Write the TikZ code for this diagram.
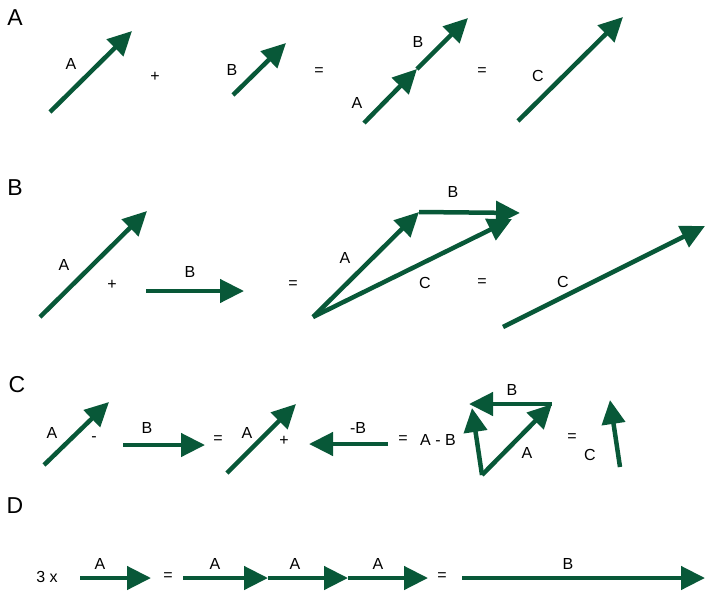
\documentclass[tikz,border=0pt]{standalone}
\usepackage{fontspec}
\setmainfont{Liberation Sans}
\usetikzlibrary{arrows.meta}
\definecolor{vecgreen}{RGB}{8,88,56}

\begin{document}
\begin{tikzpicture}[x=1pt,y=-1pt,
vec/.style={draw=vecgreen,line width=4.5pt,-{Triangle[length=24pt,width=23pt]}},
lbl/.style={font=\fontsize{16}{16}\selectfont,inner sep=0pt},
sec/.style={font=\fontsize{23}{23}\selectfont,inner sep=0pt}]
\useasboundingbox (0,0) rectangle (705,590);
% row A
\node[sec] (SA) at (15,18) {A};
\coordinate (a1) at (50,112);
\coordinate (a2) at (132,31);
\coordinate (b1) at (233,95);
\coordinate (b2) at (286,43);
\coordinate (s1) at (364,123);
\coordinate (s2) at (417,69);
\coordinate (s3) at (468,18);
\coordinate (c1) at (518,121);
\coordinate (c2) at (623,17);
\draw[vec] (a1)--(a2);
\draw[vec] (b1)--(b2);
\draw[vec] (s1)--(s2);
\draw[vec] (s2)--(s3);
\draw[vec] (c1)--(c2);
\node[lbl] (lA1) at (71,64) {A};
\node[lbl] (pA) at (155,77) {+};
\node[lbl] (lB1) at (232,70) {B};
\node[lbl] (eA1) at (319,72) {=};
\node[lbl] (lA2) at (357,103) {A};
\node[lbl] (lB2) at (418,42) {B};
\node[lbl] (eA2) at (482,72) {=};
\node[lbl] (lC1) at (538,76) {C};
% row B
\node[sec] (SB) at (15,188) {B};
\coordinate (ba1) at (40,317);
\coordinate (ba2) at (147,211);
\coordinate (bb1) at (146,291);
\coordinate (bb2) at (244,291);
\coordinate (bo) at (313,317);
\coordinate (bp) at (419,212);
\coordinate (bq) at (520,213);
\coordinate (bq2) at (512,219);
\coordinate (bc1) at (503,327);
\coordinate (bc2) at (705,226);
\draw[vec] (ba1)--(ba2);
\draw[vec] (bb1)--(bb2);
\draw[vec] (bo)--(bp);
\draw[vec] (bp)--(bq);
\draw[vec] (bo)--(bq2);
\draw[vec] (bc1)--(bc2);
\node[lbl] (lA3) at (64,265) {A};
\node[lbl] (pB) at (112,285) {+};
\node[lbl] (lB3) at (190,272) {B};
\node[lbl] (eB1) at (293,285) {=};
\node[lbl] (lA4) at (345,258) {A};
\node[lbl] (lB4) at (453,192) {B};
\node[lbl] (lC2) at (425,283) {C};
\node[lbl] (eB2) at (482,283) {=};
\node[lbl] (lC3) at (563,282) {C};
% row C
\node[sec] (SC) at (17,385) {C};
\coordinate (ca1) at (44,465);
\coordinate (ca2) at (109,402);
\coordinate (cb1) at (123,445);
\coordinate (cb2) at (205,445);
\coordinate (cd1) at (227,473);
\coordinate (cd2) at (296,404);
\coordinate (cn1) at (388,444);
\coordinate (cn2) at (309,444);
\coordinate (ct0) at (482,475);
\coordinate (ct1) at (552,404);
\coordinate (ct2) at (469,404);
\coordinate (ct3) at (472,408);
\coordinate (cc1) at (620,467);
\coordinate (cc2) at (610,400);
\draw[vec] (ca1)--(ca2);
\draw[vec] (cb1)--(cb2);
\draw[vec] (cd1)--(cd2);
\draw[vec] (cn1)--(cn2);
\draw[vec] (ct0)--(ct1);
\draw[vec] (ct1)--(ct2);
\draw[vec] (ct0)--(ct3);
\draw[vec] (cc1)--(cc2);
\node[lbl] (lA5) at (52,433) {A};
\node[lbl] (mC) at (94,439) {-};
\node[lbl] (lB5) at (147,428) {B};
\node[lbl] (eC1) at (218,440) {=};
\node[lbl] (lA6) at (247,433) {A};
\node[lbl] (pC) at (284,441) {+};
\node[lbl] (lnB) at (358,428) {-B};
\node[lbl] (eC2) at (403,440) {=};
\node[lbl] (lAB) at (438,440) {A - B};
\node[lbl] (lB6) at (512,390) {B};
\node[lbl] (lA7) at (527,453) {A};
\node[lbl] (eC3) at (572,438) {=};
\node[lbl] (lC4) at (590,455) {C};
% row D
\node[sec] (SD) at (15,506) {D};
\coordinate (da1) at (80,578);
\coordinate (da2) at (151,578);
\coordinate (d0) at (183,578);
\coordinate (d1) at (268,578);
\coordinate (d2) at (348,578);
\coordinate (d3) at (428,578);
\coordinate (db1) at (462,578);
\coordinate (db2) at (705,578);
\draw[vec] (da1)--(da2);
\draw[vec] (d0)--(d1);
\draw[vec] (d1)--(d2);
\draw[vec] (d2)--(d3);
\draw[vec] (db1)--(db2);
\node[lbl] (lx) at (47,577) {3 x};
\node[lbl] (lA8) at (100,564) {A};
\node[lbl] (eD1) at (168,577) {=};
\node[lbl] (lA9) at (215,564) {A};
\node[lbl] (lA10) at (295,564) {A};
\node[lbl] (lA11) at (378,564) {A};
\node[lbl] (eD2) at (442,577) {=};
\node[lbl] (lB7) at (568,564) {B};
\end{tikzpicture}
\end{document}
